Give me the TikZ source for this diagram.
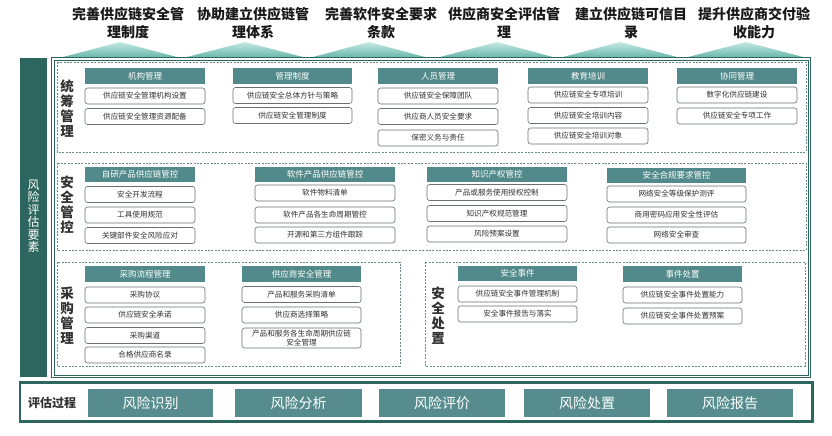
\documentclass[tikz,border=0pt]{standalone}
\usepackage{fontspec}
\setmainfont{Noto Sans CJK SC}
\usetikzlibrary{shadings}
\definecolor{darkteal}{RGB}{45,102,95}
\definecolor{hdrc}{RGB}{82,138,139}
\definecolor{botc}{RGB}{86,140,141}
\definecolor{tritop}{RGB}{196,234,227}
\definecolor{tribot}{RGB}{108,184,172}
\definecolor{itemc}{RGB}{105,112,112}
\definecolor{dashc}{RGB}{105,138,136}
\definecolor{txtc}{RGB}{50,50,50}
\definecolor{titc}{RGB}{25,25,25}
\tikzset{
  hdr/.style={fill=hdrc, text=white, inner sep=0pt, minimum height=15.5pt, font=\fontsize{8.5}{9}\selectfont},
  item/.style={draw=itemc, line width=0.6pt, fill=white, rounded corners=2.5pt, inner sep=0pt, minimum height=16pt, text=txtc, align=center, font=\fontsize{7.6}{9}\selectfont},
  sect/.style={draw=dashc, line width=0.7pt, dash pattern=on 2pt off 1.4pt},
  seclab/.style={text=txtc, align=center, inner sep=0pt, font=\fontsize{13.5}{15}\selectfont\bfseries},
  title/.style={text=titc, align=center, inner sep=0pt, font=\fontsize{14}{18}\selectfont\bfseries},
  botbox/.style={fill=botc, text=white, inner sep=0pt, minimum height=28pt, font=\fontsize{14}{16}\selectfont},
  tri/.style={top color=tritop, bottom color=tribot}
}
\begin{document}
\begin{tikzpicture}[x=1pt,y=-1pt]
\useasboundingbox (0,0) rectangle (832,436);
% titles
\node[title] (t1) at (128,23) {完善供应链安全管\\理制度};
\node[title] (t2) at (253,23) {协助建立供应链管\\理体系};
\node[title] (t3) at (381,23) {完善软件安全要求\\条款};
\node[title] (t4) at (504,23) {供应商安全评估管\\理};
\node[title] (t5) at (631,23) {建立供应链可信目\\录};
\node[title] (t6) at (754,23) {提升供应商交付验\\收能力};
% triangles
\shade[tri] (63,57) -- (120,42) -- (177,57) -- cycle;
\shade[tri] (187,57) -- (245,42) -- (303,57) -- cycle;
\shade[tri] (313,57) -- (369,42) -- (425,57) -- cycle;
\shade[tri] (440,57) -- (497,42) -- (553,57) -- cycle;
\shade[tri] (563,57) -- (620,42) -- (677,57) -- cycle;
\shade[tri] (688,57) -- (746,42) -- (803,57) -- cycle;
% left bar
\node[fill=darkteal, minimum width=27pt, minimum height=319pt, inner sep=0pt] (bar) at (33.5,217.5) {};
\node[text=white, align=center, inner sep=0pt, font=\fontsize{12}{12.5}\selectfont] (barlab) at (33.5,216) {风\\险\\评\\估\\要\\素};
% main frame (double line)
\draw[darkteal, line width=1.3pt] (51.5,57.5) rectangle (810.5,377.5);
\draw[darkteal, line width=0.6pt] (54,60) rectangle (808,375);
% sections
\draw[sect] (57,62) rectangle (806,152);
\draw[sect] (57,163) rectangle (806,250);
\draw[sect] (57,262) rectangle (400,366);
\draw[sect] (425,262) rectangle (805,366);
% section labels
\node[seclab] (l1) at (67,109) {统\\筹\\管\\理};
\node[seclab] (l2) at (67,205) {安\\全\\管\\控};
\node[seclab] (l3) at (67,315.5) {采\\购\\管\\理};
\node[seclab] (l4) at (438,316) {安\\全\\处\\置};
% section 1
\node[hdr, minimum width=120pt] (a1) at (145,76) {机构管理};
\node[item, minimum width=120pt] (a11) at (145,96) {供应链安全管理机构设置};
\node[item, minimum width=120pt] (a12) at (145,116.5) {供应链安全管理资源配备};
\node[hdr, minimum width=119pt] (a2) at (292.5,76) {管理制度};
\node[item, minimum width=119pt] (a21) at (292.5,95.5) {供应链安全总体方针与策略};
\node[item, minimum width=119pt] (a22) at (292.5,115.5) {供应链安全管理制度};
\node[hdr, minimum width=120pt] (a3) at (438,76) {人员管理};
\node[item, minimum width=120pt] (a31) at (438,96) {供应链安全保障团队};
\node[item, minimum width=120pt] (a32) at (438,116.5) {供应商人员安全要求};
\node[item, minimum width=120pt] (a33) at (438,138) {保密义务与责任};
\node[hdr, minimum width=120pt] (a4) at (588,76) {教育培训};
\node[item, minimum width=120pt] (a41) at (588,95) {供应链安全专项培训};
\node[item, minimum width=120pt] (a42) at (588,115.5) {供应链安全培训内容};
\node[item, minimum width=120pt] (a43) at (588,136) {供应链安全培训对象};
\node[hdr, minimum width=120pt] (a5) at (737,76) {协同管理};
\node[item, minimum width=120pt] (a51) at (737,95) {数字化供应链建设};
\node[item, minimum width=120pt] (a52) at (737,116) {供应链安全专项工作};
% section 2
\node[hdr, minimum width=110pt] (b1) at (140,174.5) {自研产品供应链管控};
\node[item, minimum width=110pt] (b11) at (140,194.5) {安全开发流程};
\node[item, minimum width=110pt] (b12) at (140,215) {工具使用规范};
\node[item, minimum width=110pt] (b13) at (140,235.5) {关键部件安全风险应对};
\node[hdr, minimum width=140pt] (b2) at (325,174.5) {软件产品供应链管控};
\node[item, minimum width=140pt] (b21) at (325,193) {软件物料清单};
\node[item, minimum width=140pt] (b22) at (325,215) {软件产品各生命周期管控};
\node[item, minimum width=140pt] (b23) at (325,235) {开源和第三方组件跟踪};
\node[hdr, minimum width=140pt] (b3) at (497,174.5) {知识产权管控};
\node[item, minimum width=140pt] (b31) at (497,192.5) {产品或服务使用授权控制};
\node[item, minimum width=140pt] (b32) at (497,213.5) {知识产权规范管理};
\node[item, minimum width=140pt] (b33) at (497,234) {风险预案设置};
\node[hdr, minimum width=139pt] (b4) at (676.5,175.5) {安全合规要求管控};
\node[item, minimum width=139pt] (b41) at (676.5,194) {网络安全等级保护测评};
\node[item, minimum width=139pt] (b42) at (676.5,215) {商用密码应用安全性评估};
\node[item, minimum width=139pt] (b43) at (676.5,235) {网络安全审查};
% section 3
\node[hdr, minimum width=120pt] (c1) at (145,274) {采购流程管理};
\node[item, minimum width=120pt] (c11) at (145,295) {采购协议};
\node[item, minimum width=120pt] (c12) at (145,315) {供应链安全承诺};
\node[item, minimum width=120pt] (c13) at (145,335.5) {采购渠道};
\node[item, minimum width=120pt] (c14) at (145,355) {合格供应商名录};
\node[hdr, minimum width=119pt] (c2) at (301.5,274) {供应商安全管理};
\node[item, minimum width=119pt] (c21) at (301.5,294.5) {产品和服务采购清单};
\node[item, minimum width=119pt] (c22) at (301.5,315) {供应商选择策略};
\node[item, minimum width=119pt, minimum height=20pt, font=\fontsize{7.6}{8.8}\selectfont] (c23) at (301.5,338) {产品和服务各生命周期供应链\\安全管理};
% section 4
\node[hdr, minimum width=119pt] (d1) at (517.5,273.5) {安全事件};
\node[item, minimum width=119pt] (d11) at (517.5,294) {供应链安全事件管理机制};
\node[item, minimum width=119pt] (d12) at (517.5,314) {安全事件报告与落实};
\node[hdr, minimum width=119pt] (d2) at (682.5,274) {事件处置};
\node[item, minimum width=119pt] (d21) at (682.5,295) {供应链安全事件处置能力};
\node[item, minimum width=119pt] (d22) at (682.5,316) {供应链安全事件处置预案};
% bottom process
\draw[darkteal, line width=2.2pt, fill=white] (20,382.5) rectangle (812.5,421.5);
\node[text=txtc, inner sep=0pt, font=\fontsize{12}{14}\selectfont\bfseries] (pl) at (52,403) {评估过程};
\node[botbox, minimum width=125pt] (p1) at (150.5,403) {风险识别};
\node[botbox, minimum width=127pt] (p2) at (298.5,403) {风险分析};
\node[botbox, minimum width=126pt] (p3) at (442,403) {风险评价};
\node[botbox, minimum width=126pt] (p4) at (587,403) {风险处置};
\node[botbox, minimum width=126pt] (p5) at (730,403) {风险报告};
\end{tikzpicture}
\end{document}
